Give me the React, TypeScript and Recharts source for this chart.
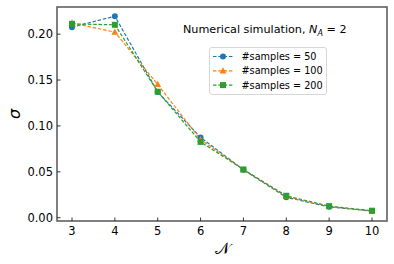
import { LineChart, Line, XAxis, YAxis, ReferenceArea, Customized } from "recharts";

const nValues = [3, 4, 5, 6, 7, 8, 9, 10];
const sigma50 = [0.2076, 0.2196, 0.137, 0.0875, 0.0522, 0.0222, 0.0118, 0.0072];
const sigma100 = [0.2122, 0.2022, 0.1452, 0.0852, 0.0524, 0.0232, 0.0122, 0.0073];
const sigma200 = [0.2112, 0.2102, 0.1373, 0.0826, 0.0525, 0.0239, 0.0126, 0.0076];
const xTicks = [3, 4, 5, 6, 7, 8, 9, 10];
const yTicks = [0, 0.05, 0.1, 0.15, 0.2];
const legendLabels = ["#samples = 50", "#samples = 100", "#samples = 200"];

const data = nValues.map((n, i) => ({
  n,
  s50: sigma50[i],
  s100: sigma100[i],
  s200: sigma200[i],
}));

const BLUE = "#1f77b4";
const ORANGE = "#ff7f0e";
const GREEN = "#2ca02c";
const FONT = "DejaVu Sans";
const DASH = "3.5 1.8";

const Circle = (p: any) => <circle cx={p.cx} cy={p.cy} r={3} fill={BLUE} />;
const Triangle = (p: any) => (
  <polygon
    points={`${p.cx},${p.cy - 3.6} ${p.cx - 3.4},${p.cy + 2.6} ${p.cx + 3.4},${p.cy + 2.6}`}
    fill={ORANGE}
  />
);
const Square = (p: any) => <rect x={p.cx - 3} y={p.cy - 3} width={6} height={6} fill={GREEN} />;

const XTick = ({ x, y, payload }: any) => (
  <g>
    <line x1={x} y1={y} x2={x} y2={y - 3.5} stroke="#333" />
    <text x={x} y={y + 13.5} textAnchor="middle" fontSize={11.5} fontFamily={FONT} fill="#000">
      {payload.value}
    </text>
  </g>
);

const YTick = ({ x, y, payload }: any) => (
  <g>
    <line x1={x} y1={y} x2={x + 3.5} y2={y} stroke="#333" />
    <text x={x - 4} y={y + 4} textAnchor="end" fontSize={11.5} fontFamily={FONT} fill="#000">
      {Number(payload.value).toFixed(2)}
    </text>
  </g>
);

const colors = [BLUE, ORANGE, GREEN];

const Overlay = () => (
  <g fontFamily={FONT} fill="#000">
    <text x={183} y={33} fontSize={11.2}>
      Numerical simulation,{" "}
      <tspan fontStyle="italic">N</tspan>
      <tspan fontStyle="italic" fontSize={8} dy={2.5}>A</tspan>
      <tspan dy={-2.5}> = 2</tspan>
    </text>
    <rect x={209.5} y={47.5} width={117} height={47} rx={2.5} fill="#fff" fillOpacity={0.85} stroke="#d6d6d6" />
    {legendLabels.map((label, i) => {
      const cy = 56.5 + i * 14.3;
      const c = colors[i];
      return (
        <g key={label}>
          <line x1={213} y1={cy} x2={233} y2={cy} stroke={c} strokeWidth={1.2} strokeDasharray={DASH} />
          {i === 0 && <circle cx={223} cy={cy} r={3} fill={c} />}
          {i === 1 && <polygon points={`223,${cy - 3.6} 219.6,${cy + 2.6} 226.4,${cy + 2.6}`} fill={c} />}
          {i === 2 && <rect x={220} y={cy - 3} width={6} height={6} fill={c} />}
          <text x={241.5} y={cy + 3.5} fontSize={9.7}>
            {label}
          </text>
        </g>
      );
    })}
    <text x={0} y={0} fontSize={16} fontStyle="italic" transform="translate(20,114) rotate(-90)" textAnchor="middle">
      σ
    </text>
    <text x={222} y={254} fontSize={16} textAnchor="middle">
      𝒩
    </text>
  </g>
);

export default function App() {
  return (
    <div style={{ position: "absolute", left: 0, top: 0, width: 394, height: 264, background: "#fff" }}>
      <LineChart width={394} height={264} data={data} margin={{ top: 7, right: 7, left: 0, bottom: 18 }}>
        <XAxis
          dataKey="n"
          type="number"
          domain={[2.65, 10.35]}
          ticks={xTicks}
          allowDataOverflow
          axisLine={false}
          tickLine={false}
          tickSize={0}
          tickMargin={0}
          height={25}
          tick={<XTick />}
        />
        <YAxis
          type="number"
          domain={[-0.0036, 0.2296]}
          ticks={yTicks}
          allowDataOverflow
          axisLine={false}
          tickLine={false}
          tickSize={0}
          tickMargin={0}
          width={57}
          tick={<YTick />}
        />
        <ReferenceArea
          x1={2.65}
          x2={10.35}
          y1={-0.0036}
          y2={0.2296}
          fill="none"
          fillOpacity={0}
          stroke="#555"
          strokeWidth={1.5}
          ifOverflow="visible"
        />
        <Line
          dataKey="s50"
          stroke={BLUE}
          strokeWidth={1.2}
          strokeDasharray={DASH}
          dot={<Circle />}
          activeDot={false}
          isAnimationActive={false}
        />
        <Line
          dataKey="s100"
          stroke={ORANGE}
          strokeWidth={1.2}
          strokeDasharray={DASH}
          dot={<Triangle />}
          activeDot={false}
          isAnimationActive={false}
        />
        <Line
          dataKey="s200"
          stroke={GREEN}
          strokeWidth={1.2}
          strokeDasharray={DASH}
          dot={<Square />}
          activeDot={false}
          isAnimationActive={false}
        />
        <Customized component={<Overlay />} />
      </LineChart>
    </div>
  );
}
